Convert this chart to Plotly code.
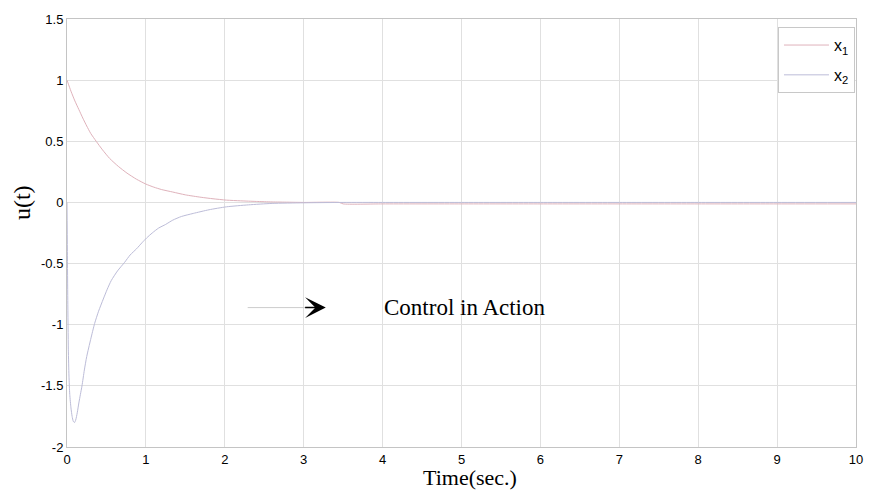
import plotly.graph_objects as go

# ---- data ----
t_x1 = [0, 0.05, 0.1, 0.15, 0.2, 0.25, 0.3, 0.37, 0.45, 0.54, 0.65, 0.76, 0.88, 1.0, 1.1, 1.2, 1.34, 1.5,
        1.7, 1.85, 2.02, 2.2, 2.4, 2.6, 2.8, 3.0, 3.45, 3.5, 4, 5, 6, 7, 8, 9, 10]
x1 = [1.0, 0.91, 0.83, 0.76, 0.69, 0.625, 0.565, 0.50, 0.43, 0.36, 0.295, 0.24, 0.19, 0.15, 0.125, 0.105,
      0.085, 0.062, 0.042, 0.03, 0.019, 0.013, 0.008, 0.004, 0.002, 0.0, 0.0, -0.012, -0.012, -0.012,
      -0.012, -0.012, -0.012, -0.012, -0.012]

t_x2 = [0, 0.005, 0.01, 0.017, 0.025, 0.035, 0.05, 0.065, 0.08, 0.095, 0.11, 0.13, 0.15, 0.17, 0.19, 0.22,
        0.25, 0.3, 0.35, 0.4, 0.46, 0.51, 0.56, 0.64, 0.73, 0.8, 0.88, 0.95, 1.01, 1.08, 1.16, 1.25, 1.34,
        1.45, 1.6, 1.8, 2.02, 2.3, 2.6, 3.0, 3.5, 4, 5, 6, 7, 8, 9, 10]
x2 = [0.0, -0.4, -0.8, -1.2, -1.42, -1.57, -1.68, -1.75, -1.79, -1.80, -1.78, -1.72, -1.64, -1.57, -1.50,
      -1.37, -1.26, -1.12, -0.99, -0.89, -0.79, -0.71, -0.64, -0.56, -0.49, -0.43, -0.38, -0.33, -0.29,
      -0.25, -0.21, -0.18, -0.145, -0.115, -0.09, -0.06, -0.036, -0.02, -0.008, -0.003, 0.0, 0.0, 0.0,
      0.0, 0.0, 0.0, 0.0, 0.0]

x_ticks = [0, 1, 2, 3, 4, 5, 6, 7, 8, 9, 10]
y_ticks = [-2, -1.5, -1, -0.5, 0, 0.5, 1, 1.5]
y_ticktext = ["-2", "-1.5", "-1", "-0.5", "0", "0.5", "1", "1.5"]

arrow_start = (2.29, -0.86)
arrow_end = (3.28, -0.86)
label_pos = (3.99, -0.86)

fig = go.Figure()
fig.add_trace(go.Scatter(x=t_x1, y=x1, mode="lines", name="x<sub>1</sub>", legendgroup="a",
                         line=dict(color="#dfb2bb", width=1, shape="spline", smoothing=0.6)))
fig.add_trace(go.Scatter(x=t_x2, y=x2, mode="lines", name="x<sub>2</sub>", legendgroup="b",
                         line=dict(color="#bcbcd8", width=1, shape="spline", smoothing=0.6)))

fig.add_shape(type="line", xref="x", yref="y",
              x0=arrow_start[0], y0=arrow_start[1], x1=arrow_end[0] - 0.15, y1=arrow_end[1],
              line=dict(color="#cccccc", width=1))
fig.add_annotation(x=arrow_end[0], y=arrow_end[1], ax=arrow_end[0] - 0.3, ay=arrow_end[1],
                   xref="x", yref="y", axref="x", ayref="y", text=" ",
                   showarrow=True, arrowhead=3, arrowsize=2.3, arrowwidth=1.5, arrowcolor="black")
fig.add_annotation(x=label_pos[0], y=label_pos[1], xref="x", yref="y", text="Control in Action",
                   showarrow=False, xanchor="left", yanchor="middle",
                   font=dict(family="Liberation Serif", size=23, color="black"))

fig.add_annotation(x=0.511, y=-0.072, xref="paper", yref="paper", text="Time(sec.)",
                   showarrow=False, xanchor="center", yanchor="middle",
                   font=dict(family="Liberation Serif", size=22, color="black"))
fig.add_annotation(x=-0.057, y=0.57, xref="paper", yref="paper", text="u(t)", textangle=-90,
                   showarrow=False, xanchor="center", yanchor="middle",
                   font=dict(family="Liberation Serif", size=24, color="black"))

axis_common = dict(showgrid=True, gridcolor="#e0e0e0", gridwidth=1,
                   showline=True, linecolor="#c4c4c4", linewidth=1, mirror=True,
                   zeroline=False, ticks="",
                   tickfont=dict(family="Liberation Sans", size=13, color="black"))
fig.update_xaxes(range=[0, 10], tickvals=x_ticks, **axis_common)
fig.update_yaxes(range=[-2, 1.5], tickvals=y_ticks, ticktext=y_ticktext, **axis_common)

fig.update_layout(
    width=875, height=491,
    margin=dict(l=67, r=17, t=19, b=44),
    plot_bgcolor="white", paper_bgcolor="white",
    showlegend=True,
    legend=dict(x=0.9987, y=0.981, xanchor="right", yanchor="top",
                bgcolor="white", bordercolor="#c8c8c8", borderwidth=1,
                font=dict(family="Liberation Sans", size=16, color="black"),
                itemwidth=45, tracegroupgap=6),
)

fig.write_html("out.html")
